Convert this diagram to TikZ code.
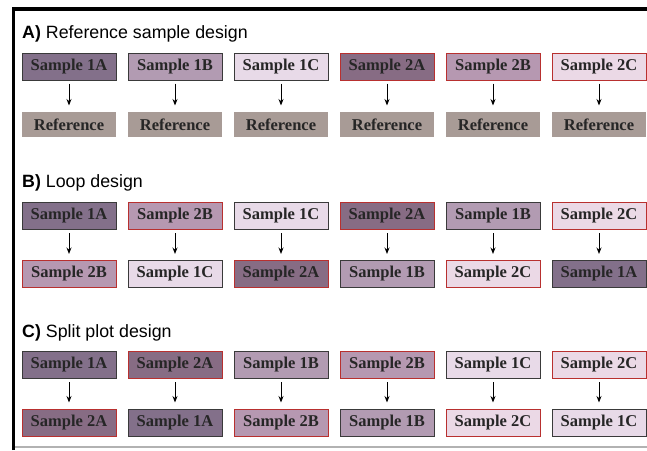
\documentclass[tikz,border=0pt]{standalone}
\usepackage{fontspec}
\setmainfont{Liberation Serif}
\newfontfamily\titlefont{Liberation Sans}
\usetikzlibrary{arrows.meta}

\definecolor{dark}{HTML}{83708A}
\definecolor{darkr}{HTML}{876C84}
\definecolor{mid}{HTML}{B29BB2}
\definecolor{midr}{HTML}{B698B1}
\definecolor{light}{HTML}{E8DAE8}
\definecolor{lightr}{HTML}{EBD9E6}
\definecolor{refgrey}{HTML}{A89B96}
\definecolor{edgegrey}{HTML}{3A3A3A}
\definecolor{edgered}{HTML}{B8302F}

\begin{document}
\begin{tikzpicture}[x=1pt,y=-1pt,
  box/.style={minimum width=94pt,minimum height=27pt,inner sep=0pt,
    line width=1pt,text=black!85,font=\fontsize{16.5}{19}\selectfont\bfseries},
  s1A/.style={fill=dark,draw=edgegrey},
  s1B/.style={fill=mid,draw=edgegrey},
  s1C/.style={fill=light,draw=edgegrey},
  s2A/.style={fill=darkr,draw=edgered},
  s2B/.style={fill=midr,draw=edgered},
  s2C/.style={fill=lightr,draw=edgered},
  refbox/.style={box,fill=refgrey,minimum height=25pt},
  title/.style={anchor=base west,inner sep=0pt,font=\titlefont\fontsize{17.8}{20}\selectfont},
  arr/.style={-{Stealth[length=6.5pt,width=5pt]},line width=1pt,
    shorten <=3pt,shorten >=6pt}]
  \useasboundingbox (0,0) rectangle (647,450);
  % frame
  \draw[line width=3.5pt] (13.5,450) -- (13.5,9) -- (647,9);
  \draw[black!30,line width=1.2pt] (15,447) -- (647,447);

  % A) reference sample design
  \node[title] (ta) at (22,38) {\textbf{A)} Reference sample design};
  \foreach \top [count=\i] in {1A,1B,1C,2A,2B,2C} {
    \node[box,s\top] (at\i) at (69+106*\i-106,66.5) {Sample \top};
    \node[refbox] (ab\i) at (69+106*\i-106,124.5) {Reference};
    \draw[arr] (at\i) -- (ab\i);
  }

  % B) loop design
  \node[title] (tb) at (22,187) {\textbf{B)} Loop design};
  \foreach \top/\bot [count=\i] in {1A/2B,2B/1C,1C/2A,2A/1B,1B/2C,2C/1A} {
    \node[box,s\top] (bt\i) at (69+106*\i-106,216) {Sample \top};
    \node[box,s\bot] (bb\i) at (69+106*\i-106,274) {Sample \bot};
    \draw[arr] (bt\i) -- (bb\i);
  }

  % C) split plot design
  \node[title] (tc) at (22,337) {\textbf{C)} Split plot design};
  \foreach \top/\bot [count=\i] in {1A/2A,2A/1A,1B/2B,2B/1B,1C/2C,2C/1C} {
    \node[box,s\top] (ct\i) at (69+106*\i-106,365) {Sample \top};
    \node[box,s\bot] (cb\i) at (69+106*\i-106,422.5) {Sample \bot};
    \draw[arr] (ct\i) -- (cb\i);
  }
\end{tikzpicture}
\end{document}
